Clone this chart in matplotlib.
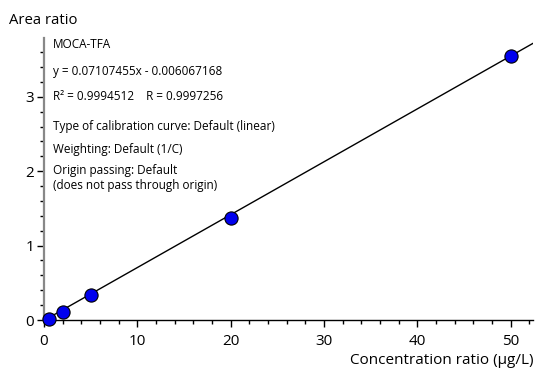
import numpy as np
import matplotlib.pyplot as plt
from matplotlib.ticker import MultipleLocator

# calibration points
conc = [0.5, 2, 5, 20, 50]
area = [0.02, 0.11, 0.33, 1.37, 3.55]
slope = 0.07107455
intercept = -0.006067168

info_lines = [
    ("MOCA-TFA", 45),
    ("y = 0.07107455x - 0.006067168", 72),
    ("R\u00b2 = 0.9994512    R = 0.9997256", 96),
    ("Type of calibration curve: Default (linear)", 126),
    ("Weighting: Default (1/C)", 149),
    ("Origin passing: Default", 171),
    ("(does not pass through origin)", 186),
]

plt.rcParams['font.family'] = ['Open Sans', 'DejaVu Sans']
W, H = 536, 370
fig = plt.figure(figsize=(W / 100, H / 100), dpi=100)
ax = fig.add_axes([44 / W, 50 / H, 489 / W, 282 / H])

xfit = np.array([0, 52.4])
ax.plot(xfit, slope * xfit + intercept, color='black', lw=1, zorder=2)
ax.plot(conc, area, 'o', ms=9.5, mfc='#0000ee', mec='black', mew=0.8, zorder=3, clip_on=False)

ax.set_xlim(0, 52.4)
ax.set_ylim(0, 3.79)
ax.xaxis.set_major_locator(MultipleLocator(10))
ax.xaxis.set_minor_locator(MultipleLocator(2))
ax.yaxis.set_major_locator(MultipleLocator(1))
ax.yaxis.set_minor_locator(MultipleLocator(0.2))
for s in ['top', 'right']:
    ax.spines[s].set_visible(False)
ax.spines['left'].set_color('#888888')
ax.spines['left'].set_linewidth(1.6)
ax.spines['bottom'].set_linewidth(1.0)
ax.tick_params(which='major', length=5, width=1, labelsize=11, direction='out')
ax.tick_params(which='minor', length=3, width=1, direction='out')
ax.tick_params(axis='x', pad=5)
ax.tick_params(axis='y', pad=2)

for txt, yp in info_lines:
    fig.text(53 / W, 1 - yp / H, txt, fontsize=8.5, va='center', ha='left')

fig.text(9 / W, 1 - 20 / H, "Area ratio", fontsize=10.7, va='center', ha='left')
fig.text(534 / W, 1 - 361 / H, "Concentration ratio (\u00b5g/L)", fontsize=11, va='center', ha='right')

fig.savefig('out.png', dpi=100)
